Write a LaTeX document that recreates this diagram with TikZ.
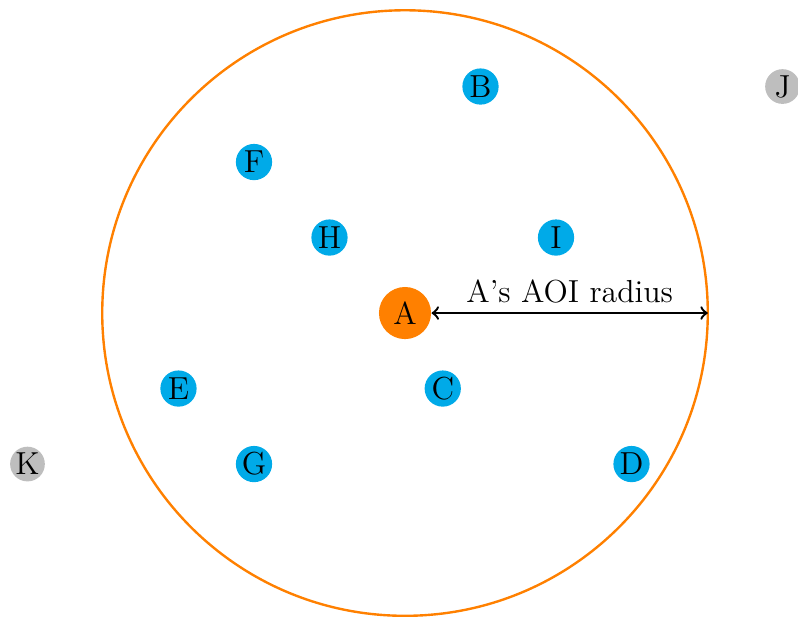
\documentclass[tikz,border=0pt]{standalone}
\usetikzlibrary{arrows}
\definecolor{nodeblue}{RGB}{0,170,232}
\definecolor{aorange}{RGB}{255,128,0}
\definecolor{fargray}{RGB}{190,190,190}
\begin{document}
\begin{tikzpicture}[
  every node/.style={font=\fontsize{12}{14.5}\selectfont},
  peer/.style={circle, fill=nodeblue, inner sep=0pt, minimum size=0.48cm},
  far/.style={circle, fill=fargray, inner sep=0pt, minimum size=0.46cm},
  self/.style={circle, fill=aorange, inner sep=0pt, minimum size=0.69cm},
  aoi/.style={draw=aorange, line width=0.9pt}
]
\useasboundingbox (-5.364,-4.013) rectangle (5.205,4.146);
\draw[aoi] (0,0) circle (4.01);
\coordinate (edge) at (4.01,0);
\node[self] (A) at (0,0) {A};
\node[peer] (B) at (1,3) {B};
\node[peer] (F) at (-2,2) {F};
\node[peer] (H) at (-1,1) {H};
\node[peer] (I) at (2,1) {I};
\node[peer] (E) at (-3,-1) {E};
\node[peer] (C) at (0.5,-1) {C};
\node[peer] (G) at (-2,-2) {G};
\node[peer] (D) at (3,-2) {D};
\node[far] (J) at (5,3) {J};
\node[far] (K) at (-5,-2) {K};
\draw[<->, line width=0.9pt] (A) -- node[above] {A’s AOI radius} (edge);
\end{tikzpicture}
\end{document}
